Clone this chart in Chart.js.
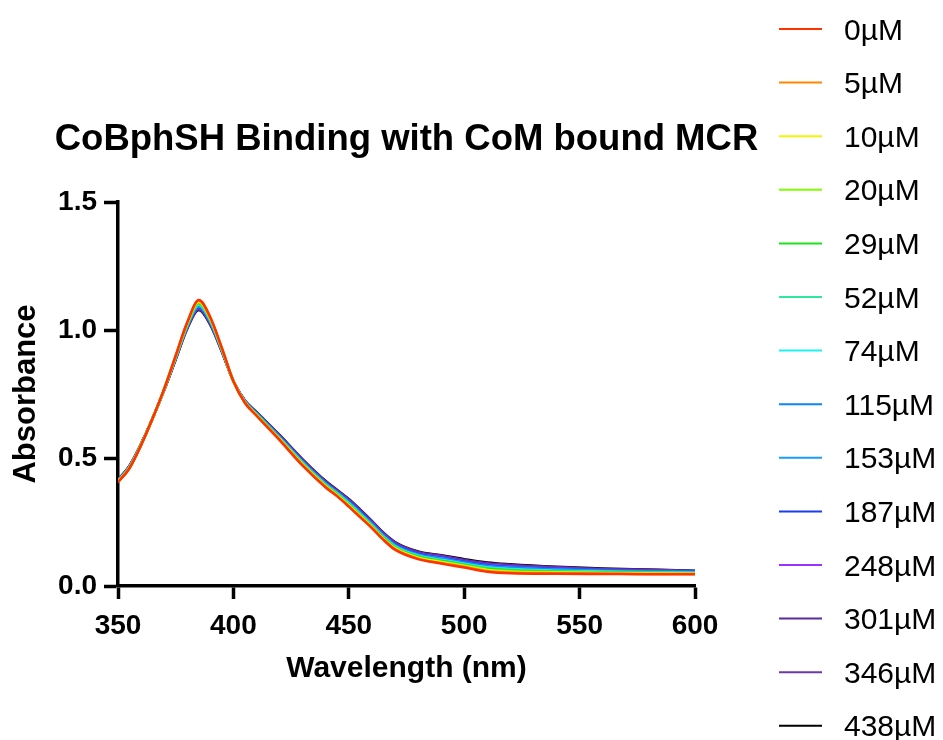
<!DOCTYPE html>
<html>
<head>
<meta charset="utf-8">
<script src="https://cdn.jsdelivr.net/npm/chart.js@4.4.1/dist/chart.umd.min.js"></script>
<style>
  html, body { margin: 0; padding: 0; background: #fff; }
  #wrap { width: 943px; height: 740px; }
</style>
</head>
<body>
<div id="wrap"><canvas id="spectra" width="943" height="740"></canvas></div>
<script>
const wavelengths = [350, 355, 360, 365, 370, 375, 380, 385, 390, 395, 400, 405, 410, 420, 430, 440, 445, 450, 455, 460, 465, 470, 480, 490, 500, 510, 520, 540, 560, 580, 600];

const seriesLabels = ["0µM", "5µM", "10µM", "20µM", "29µM", "52µM", "74µM", "115µM", "153µM", "187µM", "248µM", "301µM", "346µM", "438µM"];

const yTicks = [0, 0.5, 1.0, 1.5];
const xTicks = [350, 400, 450, 500, 550, 600];

const abs0   = [.405,.460,.550,.655,.770,.900,1.030,1.117,1.050,.930,.800,.715,.665,.570,.470,.385,.350,.310,.268,.226,.180,.142,.105,.088,.072,.056,.050,.048,.047,.046,.046];
const abs5   = [.406,.461,.550,.655,.770,.899,1.028,1.114,1.048,.929,.800,.716,.666,.572,.472,.387,.352,.312,.270,.228,.182,.144,.107,.090,.075,.059,.053,.050,.049,.047,.047];
const abs10  = [.407,.462,.551,.655,.769,.898,1.026,1.111,1.045,.928,.800,.717,.667,.573,.474,.389,.354,.315,.273,.230,.184,.147,.110,.093,.077,.062,.055,.052,.050,.049,.048];
const abs20  = [.407,.462,.551,.655,.769,.897,1.024,1.108,1.043,.927,.800,.717,.668,.575,.476,.391,.356,.317,.275,.232,.186,.149,.112,.095,.080,.064,.058,.054,.052,.050,.049];
const abs29  = [.408,.463,.552,.655,.768,.895,1.022,1.105,1.041,.925,.800,.718,.670,.576,.478,.393,.358,.319,.277,.235,.189,.151,.114,.098,.082,.067,.061,.056,.053,.052,.050];
const abs52  = [.409,.464,.552,.655,.768,.894,1.020,1.102,1.038,.924,.800,.719,.671,.578,.480,.395,.360,.322,.280,.237,.191,.154,.117,.100,.085,.070,.063,.058,.055,.053,.051];
const abs74  = [.410,.465,.552,.655,.768,.893,1.018,1.099,1.036,.923,.800,.720,.672,.579,.482,.397,.362,.324,.282,.239,.193,.156,.119,.103,.087,.073,.066,.060,.057,.054,.052];
const abs115 = [.410,.465,.553,.655,.767,.892,1.017,1.096,1.034,.922,.800,.720,.673,.581,.483,.398,.363,.326,.284,.241,.195,.158,.121,.105,.090,.075,.069,.063,.058,.056,.054];
const abs153 = [.411,.466,.553,.655,.767,.891,1.015,1.093,1.032,.921,.800,.721,.674,.582,.485,.400,.365,.328,.286,.243,.197,.160,.123,.108,.092,.078,.072,.065,.060,.057,.055];
const abs187 = [.412,.467,.553,.655,.767,.890,1.013,1.090,1.029,.920,.800,.722,.675,.584,.487,.402,.367,.331,.289,.245,.199,.163,.126,.110,.095,.081,.074,.067,.062,.058,.056];
const abs248 = [.413,.468,.554,.655,.766,.888,1.011,1.087,1.027,.918,.800,.723,.677,.585,.489,.404,.369,.333,.291,.248,.202,.165,.128,.113,.097,.084,.077,.069,.063,.060,.057];
const abs301 = [.413,.468,.554,.655,.766,.887,1.009,1.084,1.025,.917,.800,.723,.678,.587,.491,.406,.371,.335,.293,.250,.204,.167,.130,.115,.100,.086,.080,.071,.065,.061,.058];
const abs346 = [.414,.469,.555,.655,.765,.886,1.007,1.081,1.022,.916,.800,.724,.679,.588,.493,.408,.373,.338,.296,.252,.206,.170,.133,.118,.102,.089,.082,.073,.066,.063,.059];
const abs438 = [.415,.470,.555,.655,.765,.885,1.005,1.078,1.020,.915,.800,.725,.680,.590,.495,.410,.375,.340,.298,.254,.208,.172,.135,.120,.105,.092,.085,.075,.068,.064,.060];

const allSeries = [abs0, abs5, abs10, abs20, abs29, abs52, abs74, abs115, abs153, abs187, abs248, abs301, abs346, abs438];
const colors = ["#ff3300", "#ff8800", "#f5f500", "#7fff00", "#1ee01e", "#2ee8a0", "#1ff0f0", "#0a84ff", "#1a9cff", "#1a3cf0", "#9933ff", "#5b2c9e", "#6b3aa8", "#000000"];

const FONT = "'Liberation Sans', Arial, Helvetica, sans-serif";

// title + legend drawn by hand so they sit exactly like the original
const annotations = {
  id: "annotations",
  afterDraw(chart) {
    const ctx = chart.ctx;
    const area = chart.chartArea;
    ctx.save();
    ctx.fillStyle = "#000";
    ctx.font = "bold 36.5px " + FONT;
    ctx.textAlign = "center";
    ctx.textBaseline = "alphabetic";
    ctx.fillText("CoBphSH Binding with CoM bound MCR", (area.left + area.right) / 2, 150);

    ctx.font = "30px " + FONT;
    ctx.textAlign = "left";
    chart.data.datasets.forEach((ds, i) => {
      const y = 29 + i * 53.6;
      ctx.strokeStyle = ds.borderColor;
      ctx.lineWidth = 2;
      ctx.beginPath();
      ctx.moveTo(779, y);
      ctx.lineTo(822, y);
      ctx.stroke();
      ctx.fillStyle = "#000";
      ctx.fillText(ds.label, 844, y + 10.5);
    });
    ctx.restore();
  }
};

const datasets = allSeries.map((vals, i) => ({
  label: seriesLabels[i],
  data: wavelengths.map((w, j) => ({ x: w, y: vals[j] })),
  borderColor: colors[i],
  backgroundColor: colors[i],
  borderWidth: 2.5,
  pointRadius: 0,
  fill: false,
  cubicInterpolationMode: "monotone"
}));

new Chart(document.getElementById("spectra"), {
  type: "line",
  data: { datasets },
  options: {
    responsive: false,
    animation: false,
    devicePixelRatio: 1,
    layout: { padding: { left: 0, right: 248, top: 202, bottom: 0 } },
    plugins: {
      legend: { display: false },
      title: { display: false },
      tooltip: { enabled: false }
    },
    scales: {
      x: {
        type: "linear",
        min: 350,
        max: 600,
        afterFit: s => { s.height = 154; },
        afterBuildTicks: s => { s.ticks = xTicks.map(v => ({ value: v })); },
        ticks: {
          color: "#000",
          padding: 10,
          font: { family: FONT, size: 28, weight: "bold" }
        },
        grid: { drawOnChartArea: false, drawTicks: true, tickLength: 13, tickWidth: 3.5, tickColor: "#000" },
        border: { display: true, color: "#000", width: 3.5 },
        title: {
          display: true,
          text: "Wavelength (nm)",
          color: "#000",
          font: { family: FONT, size: 30, weight: "bold" },
          padding: { top: 0, bottom: 53 }
        }
      },
      y: {
        min: 0,
        max: 1.5,
        afterFit: s => { s.width = 118; },
        afterBuildTicks: s => { s.ticks = yTicks.map(v => ({ value: v })); },
        ticks: {
          color: "#000",
          padding: 7,
          font: { family: FONT, size: 28, weight: "bold" },
          callback: v => Number(v).toFixed(1)
        },
        grid: { drawOnChartArea: false, drawTicks: true, tickLength: 14, tickWidth: 3.5, tickColor: "#000" },
        border: { display: true, color: "#000", width: 3.5 },
        title: {
          display: true,
          text: "Absorbance",
          color: "#000",
          font: { family: FONT, size: 31, weight: "bold" },
          padding: { top: 8, bottom: 0 }
        }
      }
    }
  },
  plugins: [annotations]
});
</script>
</body>
</html>
